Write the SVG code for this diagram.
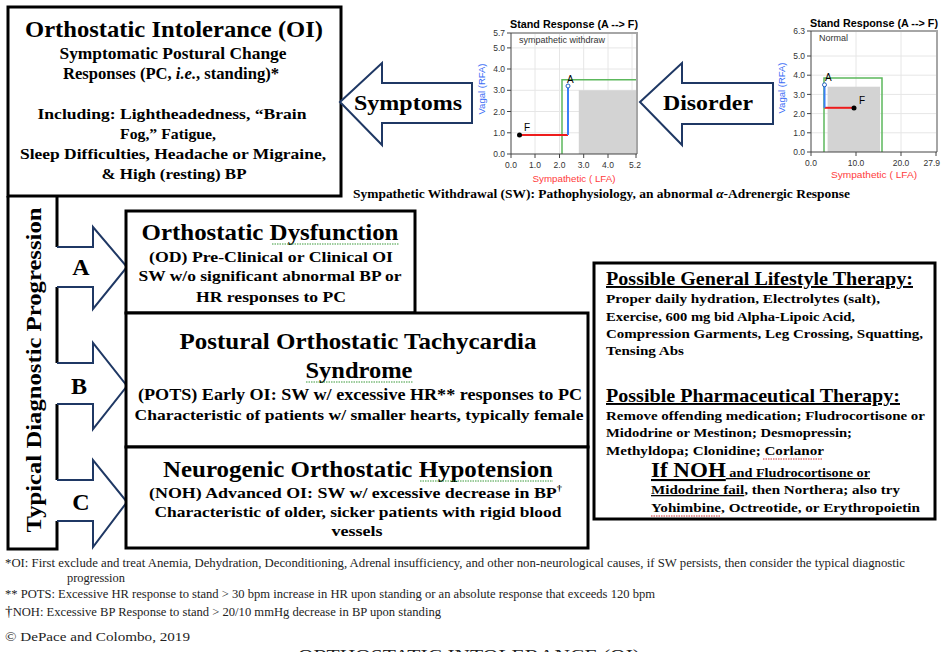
<svg xmlns="http://www.w3.org/2000/svg" width="941" height="652" viewBox="0 0 941 652">
<style>
.b{font-family:"Liberation Serif","Times New Roman",serif;font-weight:bold;fill:#000}
.r{font-family:"Liberation Serif","Times New Roman",serif;fill:#222}
.s{font-family:"Liberation Sans",Arial,sans-serif}
.box{fill:#fff;stroke:#000;stroke-width:3}
.blk{stroke:#000;stroke-width:3;fill:none}
.arr{fill:#fff;stroke:#1F3864;stroke-width:2;stroke-linejoin:miter}
.tick{font-family:"Liberation Sans",Arial,sans-serif;font-size:8.5px;fill:#333}
.grid{stroke:#e6e6e6;stroke-width:1}
.ax{stroke:#444;stroke-width:1;fill:none}
.frame{stroke:#a6a6a6;stroke-width:2;fill:none}
.sq{stroke-width:1;stroke-dasharray:1.5 1;fill:none}
</style>
<rect width="941" height="652" fill="#fff"/>

<g id="oi-box">
<rect class="box" x="8" y="7" width="333" height="189"/>
<text class="b" x="174" y="37" font-size="24" text-anchor="middle" textLength="298" lengthAdjust="spacingAndGlyphs">Orthostatic Intolerance (OI)</text>
<text class="b" x="173" y="59" font-size="16" text-anchor="middle" textLength="227" lengthAdjust="spacingAndGlyphs">Symptomatic Postural Change</text>
<text class="b" x="171" y="79" font-size="16" text-anchor="middle" textLength="216" lengthAdjust="spacingAndGlyphs">Responses (PC, <tspan font-style="italic">i.e.</tspan>, standing)*</text>
<text class="b" x="172" y="119" font-size="15.5" text-anchor="middle" textLength="269" lengthAdjust="spacingAndGlyphs">Including:   Lightheadedness, “Brain</text>
<text class="b" x="168" y="139" font-size="15.5" text-anchor="middle" textLength="96" lengthAdjust="spacingAndGlyphs">Fog,” Fatigue,</text>
<text class="b" x="173" y="159" font-size="15.5" text-anchor="middle" textLength="306" lengthAdjust="spacingAndGlyphs">Sleep Difficulties, Headache or Migraine,</text>
<text class="b" x="174" y="179" font-size="15.5" text-anchor="middle" textLength="145" lengthAdjust="spacingAndGlyphs">&amp; High (resting) BP</text>
</g>

<g id="symptoms-arrow">
<path class="arr" d="M340,102 L382,63 L382,83 L472,83 L472,123 L382,123 L382,145 Z"/>
<text class="b" x="408" y="110" font-size="22" text-anchor="middle" textLength="108" lengthAdjust="spacingAndGlyphs">Symptoms</text>
</g>

<g id="disorder-arrow">
<path class="arr" d="M640,102 L682,63 L682,83 L773,83 L773,124 L682,124 L682,145 Z"/>
<text class="b" x="708" y="110" font-size="22" text-anchor="middle" textLength="90" lengthAdjust="spacingAndGlyphs">Disorder</text>
</g>

<g id="chart-sw">
<text class="s" x="574" y="28" font-size="10" font-weight="bold" text-anchor="middle" textLength="128" lengthAdjust="spacingAndGlyphs">Stand Response (A --&gt; F)</text>
<g class="grid">
<line x1="535" y1="33" x2="535" y2="154"/><line x1="559.5" y1="33" x2="559.5" y2="154"/><line x1="583.7" y1="33" x2="583.7" y2="154"/><line x1="608" y1="33" x2="608" y2="154"/><line x1="632" y1="33" x2="632" y2="154"/>
<line x1="511" y1="132.8" x2="637" y2="132.8"/><line x1="511" y1="111.5" x2="637" y2="111.5"/><line x1="511" y1="90.3" x2="637" y2="90.3"/><line x1="511" y1="69" x2="637" y2="69"/><line x1="511" y1="47.9" x2="637" y2="47.9"/>
</g>
<rect x="578.8" y="90.3" width="58.2" height="63.7" fill="#d3d3d3"/>
<polyline points="562,154 562,79.7 637,79.7" fill="none" stroke="#5cb85c" stroke-width="1.5"/>
<polyline class="frame" points="511,33 637,33 637,154"/>
<path class="ax" d="M511,33 V154 H637 M507,33 H511 M507,47.9 H511 M507,69 H511 M507,90.3 H511 M507,111.5 H511 M507,132.8 H511 M507,154 H511 M511,154 V158 M535,154 V158 M559.5,154 V158 M583.7,154 V158 M608,154 V158 M636,154 V158"/>
<line x1="519.5" y1="134.9" x2="568" y2="134.9" stroke="#ee1c1c" stroke-width="2"/>
<line x1="568" y1="134.9" x2="568" y2="86" stroke="#3a7ff5" stroke-width="2"/>
<circle cx="519.5" cy="134.9" r="2.5" fill="#000"/>
<circle cx="568" cy="86" r="2" fill="#fff" stroke="#2060c0" stroke-width="1"/>
<text class="s" x="524" y="131" font-size="10" fill="#000">F</text>
<text class="s" x="567" y="83" font-size="10" fill="#000">A</text>
<text class="s" x="519" y="43" font-size="9" fill="#333">sympathetic withdraw</text>
<g class="tick" text-anchor="end">
<text x="505" y="36">5.7</text><text x="505" y="51">5.0</text><text x="505" y="72">4.0</text><text x="505" y="93">3.0</text><text x="505" y="114.5">2.0</text><text x="505" y="136">1.0</text><text x="505" y="157">0.0</text>
</g>
<g class="tick" text-anchor="middle">
<text x="511" y="168">0.0</text><text x="535" y="168">1.0</text><text x="559.5" y="168">2.0</text><text x="583.7" y="168">3.0</text><text x="608" y="168">4.0</text><text x="635" y="168">5.2</text>
</g>
<text class="s" x="574" y="182" font-size="9.5" fill="#ff3b3b" text-anchor="middle" textLength="83" lengthAdjust="spacingAndGlyphs">Sympathetic ( LFA)</text>
<text class="s" transform="translate(485,89) rotate(-90)" font-size="9.5" fill="#3a6cf5" text-anchor="middle">Vagal (RFA)</text>
</g>

<g id="chart-normal">
<text class="s" x="810" y="27" font-size="10" font-weight="bold" textLength="128" lengthAdjust="spacingAndGlyphs">Stand Response (A --&gt; F)</text>
<g class="grid">
<line x1="856" y1="31" x2="856" y2="152"/><line x1="901" y1="31" x2="901" y2="152"/>
<line x1="811" y1="132.8" x2="937" y2="132.8"/><line x1="811" y1="113.6" x2="937" y2="113.6"/><line x1="811" y1="94.4" x2="937" y2="94.4"/><line x1="811" y1="75.2" x2="937" y2="75.2"/><line x1="811" y1="56" x2="937" y2="56"/>
</g>
<rect x="827.6" y="86.7" width="52.4" height="65.3" fill="#d3d3d3"/>
<polyline points="824,152 824,78 882,78 882,152" fill="none" stroke="#5cb85c" stroke-width="1.5"/>
<polyline class="frame" points="811,31 937,31 937,152"/>
<path class="ax" d="M811,31 V152 H937 M807,31 H811 M807,56 H811 M807,75.2 H811 M807,94.4 H811 M807,113.6 H811 M807,132.8 H811 M807,152 H811 M811,152 V156 M856,152 V156 M901,152 V156 M936,152 V156"/>
<line x1="824.5" y1="107.8" x2="854" y2="107.8" stroke="#ee1c1c" stroke-width="2"/>
<line x1="824.5" y1="107.8" x2="824.5" y2="84.8" stroke="#3a7ff5" stroke-width="2"/>
<circle cx="854" cy="108" r="2.5" fill="#000"/>
<circle cx="824.5" cy="84.8" r="2" fill="#fff" stroke="#2060c0" stroke-width="1"/>
<text class="s" x="859" y="104" font-size="10" fill="#000">F</text>
<text class="s" x="825" y="81" font-size="10" fill="#000">A</text>
<text class="s" x="819" y="41" font-size="9" fill="#333">Normal</text>
<g class="tick" text-anchor="end">
<text x="805" y="34">6.3</text><text x="805" y="59">5.0</text><text x="805" y="78">4.0</text><text x="805" y="97.5">3.0</text><text x="805" y="116.5">2.0</text><text x="805" y="136">1.0</text><text x="805" y="155">0.0</text>
</g>
<g class="tick" text-anchor="middle">
<text x="811" y="166">0.0</text><text x="856" y="166">10.0</text><text x="901" y="166">20.0</text><text x="940" y="166" text-anchor="end">27.9</text>
</g>
<text class="s" x="874" y="178" font-size="9.5" fill="#ff3b3b" text-anchor="middle" textLength="86" lengthAdjust="spacingAndGlyphs">Sympathetic ( LFA)</text>
<text class="s" transform="translate(785,88) rotate(-90)" font-size="9.5" fill="#3a6cf5" text-anchor="middle">Vagal (RFA)</text>
</g>

<g id="sw-caption">
<text class="b" x="353" y="198" font-size="13.5" textLength="497" lengthAdjust="spacingAndGlyphs">Sympathetic Withdrawal (SW):  Pathophysiology, an abnormal <tspan font-style="italic">α</tspan>-Adrenergic Response</text>
</g>

<g id="progression">
<path class="blk" d="M8,196 V549 H57 V521 M57,480 V404 M57,363 V287 M57,247 V196"/>
<text class="b" transform="translate(41,370) rotate(-90)" font-size="22" text-anchor="middle" textLength="325" lengthAdjust="spacingAndGlyphs">Typical Diagnostic Progression</text>
</g>

<g id="connectors">
<path class="arr" d="M57,247 L93,247 L93,227 L127,267 L93,309 L93,287 L57,287"/>
<path class="arr" d="M57,363 L93,363 L93,343 L127,386 L93,429 L93,404 L57,404"/>
<path class="arr" d="M57,480 L93,480 L93,460 L127,502 L93,547 L93,521 L57,521"/>
<text class="b" x="81" y="275" font-size="24" text-anchor="middle">A</text>
<text class="b" x="79" y="394" font-size="24" text-anchor="middle">B</text>
<text class="b" x="81" y="510" font-size="24" text-anchor="middle">C</text>
</g>

<g id="od-box">
<rect class="box" x="126" y="211" width="289" height="102"/>
<text class="b" x="270" y="240" font-size="23" text-anchor="middle" textLength="257" lengthAdjust="spacingAndGlyphs">Orthostatic Dysfunction</text>
<path class="sq" stroke="#3a9a3a" d="M272,244 H399"/>
<text class="b" x="271" y="262" font-size="15.5" text-anchor="middle" textLength="244" lengthAdjust="spacingAndGlyphs">(OD)  Pre-Clinical or Clinical  OI</text>
<text class="b" x="270" y="281" font-size="15.5" text-anchor="middle" textLength="263" lengthAdjust="spacingAndGlyphs">SW w/o significant  abnormal  BP or</text>
<text class="b" x="271" y="302" font-size="15.5" text-anchor="middle" textLength="150" lengthAdjust="spacingAndGlyphs">HR responses to PC</text>
</g>

<g id="pots-box">
<rect class="box" x="126" y="313" width="462" height="134"/>
<text class="b" x="358" y="349" font-size="23" text-anchor="middle" textLength="357" lengthAdjust="spacingAndGlyphs">Postural Orthostatic Tachycardia</text>
<text class="b" x="359" y="378" font-size="23" text-anchor="middle" textLength="107" lengthAdjust="spacingAndGlyphs">Syndrome</text>
<path class="sq" stroke="#3a9a3a" d="M306,382 H413"/>
<text class="b" x="360" y="400" font-size="16" text-anchor="middle" textLength="444" lengthAdjust="spacingAndGlyphs">(POTS)  Early OI:  SW w/ excessive HR** responses to PC</text>
<text class="b" x="359" y="420" font-size="15.5" text-anchor="middle" textLength="449" lengthAdjust="spacingAndGlyphs">Characteristic of patients w/ smaller hearts, typically  female</text>
</g>

<g id="noh-box">
<rect class="box" x="126" y="447" width="462" height="101"/>
<text class="b" x="358" y="477" font-size="23" text-anchor="middle" textLength="390" lengthAdjust="spacingAndGlyphs">Neurogenic Orthostatic Hypotension</text>
<path class="sq" stroke="#3a9a3a" d="M420,481 H553"/>
<text class="b" x="149" y="498" font-size="15.5" textLength="413" lengthAdjust="spacingAndGlyphs">(NOH)  Advanced OI:  SW w/ excessive decrease in BP<tspan font-size="9" dy="-7">†</tspan></text>
<text class="b" x="358" y="517" font-size="15.5" text-anchor="middle" textLength="407" lengthAdjust="spacingAndGlyphs">Characteristic of older, sicker patients with rigid blood</text>
<text class="b" x="357" y="536" font-size="15.5" text-anchor="middle" textLength="51" lengthAdjust="spacingAndGlyphs">vessels</text>
</g>

<g id="therapy-box">
<rect class="box" x="594" y="263" width="341" height="256"/>
<text class="b" x="606" y="285" font-size="19.5" text-decoration="underline" textLength="307" lengthAdjust="spacingAndGlyphs">Possible General Lifestyle Therapy:</text>
<text class="b" x="606" y="303" font-size="13" textLength="274" lengthAdjust="spacingAndGlyphs">Proper daily hydration, Electrolytes (salt),</text>
<text class="b" x="606" y="321" font-size="13" textLength="249" lengthAdjust="spacingAndGlyphs">Exercise, 600 mg bid Alpha-Lipoic Acid,</text>
<text class="b" x="606" y="338" font-size="13" textLength="317" lengthAdjust="spacingAndGlyphs">Compression Garments, Leg Crossing, Squatting,</text>
<text class="b" x="606" y="355" font-size="13" textLength="78" lengthAdjust="spacingAndGlyphs">Tensing Abs</text>
<text class="b" x="606" y="402" font-size="19.5" text-decoration="underline" textLength="294" lengthAdjust="spacingAndGlyphs">Possible Pharmaceutical Therapy:</text>
<text class="b" x="606" y="420" font-size="13" textLength="319" lengthAdjust="spacingAndGlyphs">Remove offending medication; Fludrocortisone or</text>
<text class="b" x="606" y="437" font-size="13" textLength="246" lengthAdjust="spacingAndGlyphs">Midodrine or Mestinon; Desmopressin;</text>
<text class="b" x="606" y="455" font-size="13" textLength="218" lengthAdjust="spacingAndGlyphs">Methyldopa; Clonidine; Corlanor</text>
<path class="sq" stroke="#d03030" d="M763,459 H823"/>
<text class="b" x="651" y="477" font-size="13" text-decoration="underline" textLength="219" lengthAdjust="spacingAndGlyphs"><tspan font-size="21">If NOH</tspan> and Fludrocortisone or</text>
<text class="b" x="651" y="494" font-size="13" textLength="249" lengthAdjust="spacingAndGlyphs"><tspan text-decoration="underline">Midodrine fail</tspan>, then Northera; also try</text>
<text class="b" x="651" y="512" font-size="13" textLength="269" lengthAdjust="spacingAndGlyphs">Yohimbine, Octreotide, or Erythropoietin</text>
<path class="sq" stroke="#d03030" d="M651,516 H720"/>
</g>

<g id="footnotes">
<text class="r" x="5" y="567" font-size="11.5" textLength="900" lengthAdjust="spacingAndGlyphs">*OI:  First exclude and treat Anemia, Dehydration, Deconditioning, Adrenal insufficiency, and other non-neurological causes, if SW persists, then consider the typical diagnostic</text>
<text class="r" x="67" y="582" font-size="11.5" textLength="58" lengthAdjust="spacingAndGlyphs">progression</text>
<text class="r" x="5" y="598" font-size="11.5" textLength="650" lengthAdjust="spacingAndGlyphs">** POTS:  Excessive HR response to stand &gt; 30 bpm increase in HR upon standing or an absolute response that exceeds 120 bpm</text>
<text class="r" x="5" y="616" font-size="11.5" textLength="436" lengthAdjust="spacingAndGlyphs"><tspan font-size="14">†</tspan>NOH:  Excessive BP Response to stand &gt; 20/10 mmHg decrease in BP upon standing</text>
<text class="r" x="5" y="641" font-size="13" textLength="185" lengthAdjust="spacingAndGlyphs">© DePace and Colombo, 2019</text>
<text class="r" x="298" y="661" font-size="17" textLength="342" lengthAdjust="spacingAndGlyphs">ORTHOSTATIC INTOLERANCE (OI)</text>
</g>
</svg>
